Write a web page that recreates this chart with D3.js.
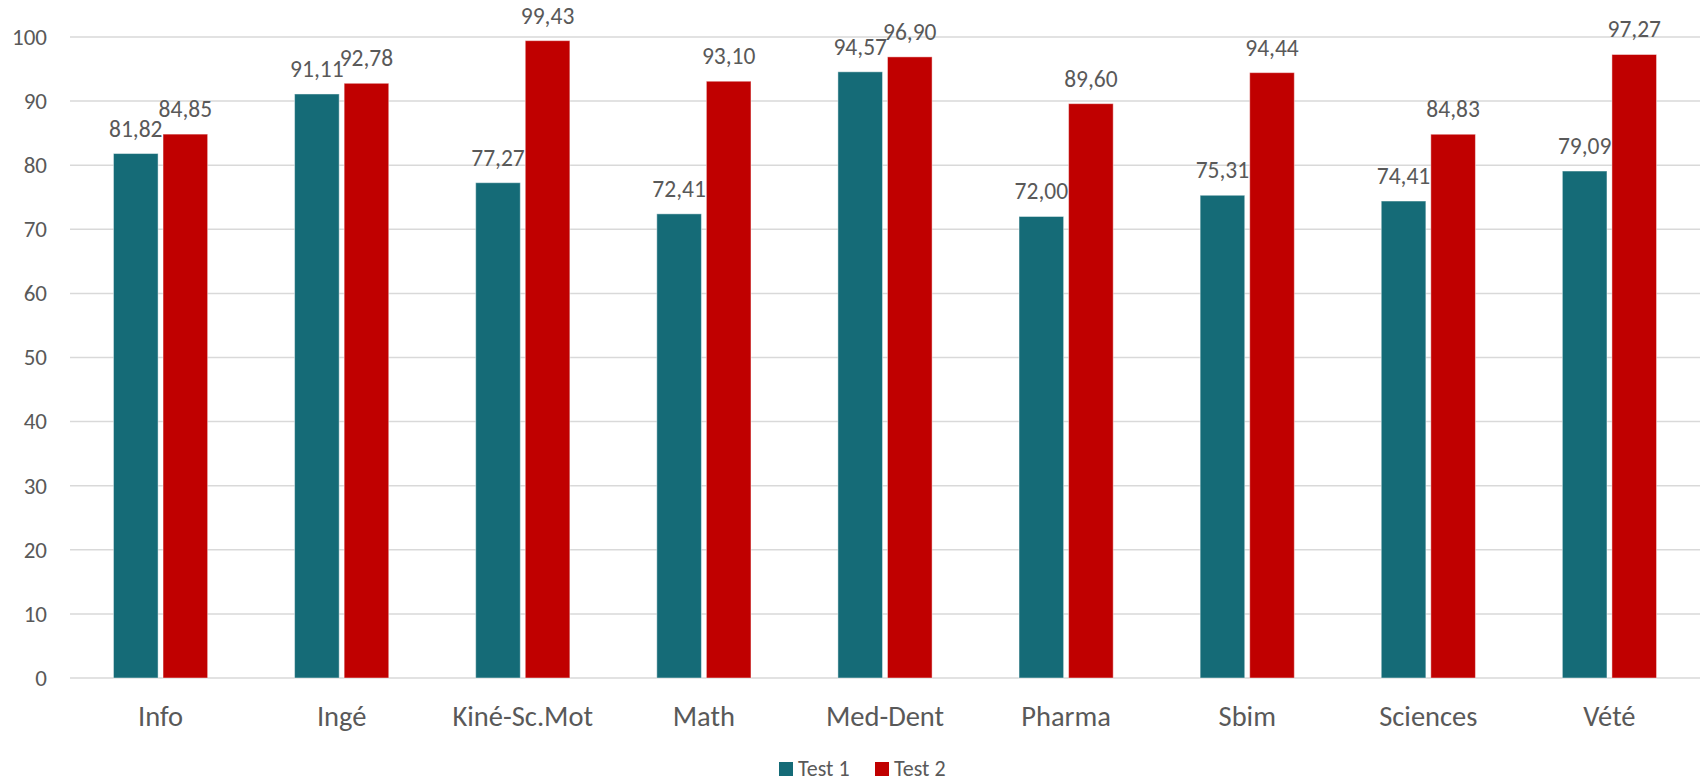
<!DOCTYPE html>
<html>
<head>
<meta charset="utf-8">
<script src="https://cdn.jsdelivr.net/npm/d3@7"></script>
<style>
  html, body { margin: 0; padding: 0; background: #ffffff; }
  svg { display: block; }
  text { font-family: Calibri, Carlito, "Open Sans", sans-serif; fill: #595959; }
</style>
</head>
<body>
<svg id="chart" width="1704" height="782"></svg>
<script>
// Filières and scores for both tests
const categories = ["Info", "Ingé", "Kiné-Sc.Mot", "Math", "Med-Dent", "Pharma", "Sbim", "Sciences", "Vété"];
const test1 = [81.82, 91.11, 77.27, 72.41, 94.57, 72.00, 75.31, 74.41, 79.09];
const test2 = [84.85, 92.78, 99.43, 93.10, 96.90, 89.60, 94.44, 84.83, 97.27];
const seriesNames = ["Test 1", "Test 2"];
const yTicks = [0, 10, 20, 30, 40, 50, 60, 70, 80, 90, 100];

const colors = ["#156b77", "#c00000"];
const W = 1704, H = 782;
const margin = { left: 70, right: 4, top: 37, bottom: 104 };

const svg = d3.select("#chart");

const x = d3.scaleBand()
  .domain(categories)
  .range([margin.left, W - margin.right])
  .paddingInner(0)
  .paddingOuter(0);

const inner = d3.scaleBand()
  .domain(seriesNames)
  .range([x.bandwidth() * 0.24, x.bandwidth() * 0.76])
  .paddingInner(0.1);

const y = d3.scaleLinear()
  .domain([0, 100])
  .range([H - margin.bottom, margin.top]);

// decimal comma
const fr = d3.formatLocale({ decimal: ",", thousands: " ", grouping: [3], currency: ["", " €"] });
const fmt = fr.format(".2f");

// gridlines
svg.append("g")
  .selectAll("line")
  .data(yTicks)
  .join("line")
  .attr("x1", margin.left)
  .attr("x2", W - margin.right)
  .attr("y1", d => y(d))
  .attr("y2", d => y(d))
  .attr("stroke", "#d9d9d9")
  .attr("stroke-width", 1.5);

// y axis labels
const yAxis = d3.axisLeft(y).tickValues(yTicks).tickSize(0).tickPadding(23);
const gy = svg.append("g")
  .attr("transform", `translate(${margin.left},0)`)
  .call(yAxis);
gy.select(".domain").remove();
gy.selectAll("text")
  .style("font-size", "23px")
  .attr("fill", "#595959");

// x axis labels
const xAxis = d3.axisBottom(x).tickSize(0).tickPadding(0);
const gx = svg.append("g")
  .attr("transform", `translate(0,${y(0)})`)
  .call(xAxis);
gx.select(".domain").remove();
gx.selectAll("text")
  .attr("dy", null)
  .attr("y", 48)
  .style("font-size", "28.5px")
  .attr("fill", "#595959");

// bars
const rows = categories.map((c, i) => ({ cat: c, vals: [test1[i], test2[i]] }));
const groups = svg.append("g")
  .selectAll("g")
  .data(rows)
  .join("g")
  .attr("transform", d => `translate(${x(d.cat)},0)`);

groups.selectAll("rect")
  .data(d => d.vals.map((v, k) => ({ v, k })))
  .join("rect")
  .attr("x", d => inner(seriesNames[d.k]))
  .attr("width", inner.bandwidth())
  .attr("y", d => y(d.v))
  .attr("height", d => y(0) - y(d.v))
  .attr("fill", d => colors[d.k])
  .attr("stroke", "rgba(255,255,255,0.45)")
  .attr("stroke-width", 1);

// value labels
groups.selectAll("text.val")
  .data(d => d.vals.map((v, k) => ({ v, k })))
  .join("text")
  .attr("class", "val")
  .attr("x", d => inner(seriesNames[d.k]) + inner.bandwidth() / 2)
  .attr("y", d => y(d.v) - 17)
  .attr("text-anchor", "middle")
  .style("font-size", "23.5px")
  .attr("fill", "#404040")
  .text(d => fmt(d.v));

// legend
const legend = svg.append("g").attr("transform", "translate(779,762)");
const legendX = [0, 96];
seriesNames.forEach((name, k) => {
  const g = legend.append("g").attr("transform", `translate(${legendX[k]},0)`);
  g.append("rect").attr("width", 14).attr("height", 14).attr("fill", colors[k]);
  g.append("text")
    .attr("x", 19)
    .attr("y", 14)
    .style("font-size", "22px")
    .attr("fill", "#595959")
    .text(name);
});
</script>
</body>
</html>
